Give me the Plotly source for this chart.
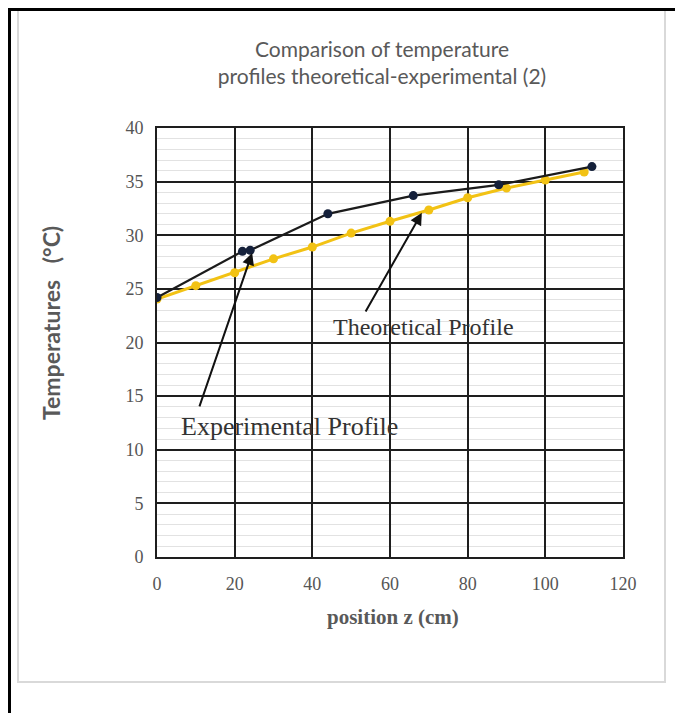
import plotly.graph_objects as go

# Data
exp_z = [0, 22, 24, 44, 66, 88, 112]
exp_T = [24.2, 28.5, 28.6, 32.0, 33.7, 34.7, 36.4]

theo_z = [0, 10, 20, 30, 40, 50, 60, 70, 80, 90, 100, 110]
theo_T = [24.05, 25.3, 26.5, 27.8, 28.9, 30.2, 31.3, 32.35, 33.5, 34.4, 35.15, 35.9]

x_ticks = [0, 20, 40, 60, 80, 100, 120]
y_ticks = [0, 5, 10, 15, 20, 25, 30, 35, 40]

# page offset (browser body margin)
OFF = 8
W, H = 683 - OFF, 713 - OFF
PL, PR, PT, PB = 157, 623, 128, 557      # plot area in reference pixels
L, T = PL - OFF, PT - OFF
R, B = W - (PR - OFF), H - (PB - OFF)
PW, PH = PR - PL, PB - PT


def px_x(px):
    return (px - PL) / PW


def px_y(py):
    return (PB - py) / PH


fig = go.Figure()

fig.add_trace(go.Scatter(
    x=theo_z, y=theo_T, mode="lines+markers", name="Theoretical Profile",
    line=dict(color="#f2c214", width=3),
    marker=dict(color="#f2c214", size=9),
))
fig.add_trace(go.Scatter(
    x=exp_z, y=exp_T, mode="lines+markers", name="Experimental Profile",
    line=dict(color="#1b1b1b", width=2.2),
    marker=dict(color="#14203a", size=9),
))

grid_dark = "#1e1e1e"
tick_font = dict(family="Liberation Serif", size=18, color="#555555")

fig.update_xaxes(
    range=[0, 120], tickvals=x_ticks, ticktext=[str(v) for v in x_ticks],
    showgrid=True, gridcolor=grid_dark, gridwidth=2,
    showline=True, linecolor=grid_dark, linewidth=2, mirror=True,
    zeroline=False, tickfont=tick_font, ticks="", ticklabelstandoff=9,
    automargin=False,
)
fig.update_yaxes(
    range=[0, 40], tickvals=y_ticks, ticktext=[str(v) for v in y_ticks],
    showgrid=True, gridcolor=grid_dark, gridwidth=2,
    minor=dict(dtick=1, showgrid=True, gridcolor="#e2e2e2", gridwidth=1),
    showline=True, linecolor=grid_dark, linewidth=2, mirror=True,
    zeroline=False, tickfont=tick_font, ticks="", ticklabelstandoff=8,
    automargin=False,
)

shapes = [
    # light grey chart frame
    dict(type="rect", xref="paper", yref="paper",
         x0=px_x(18), x1=px_x(665), y0=px_y(682), y1=px_y(7),
         line=dict(color="#d9d9d9", width=2), fillcolor="rgba(0,0,0,0)", layer="below"),
    # black outer border (left and top), as close to the page corner as possible
    dict(type="line", xref="paper", yref="paper",
         x0=px_x(9.5), x1=px_x(9.5), y0=px_y(720), y1=px_y(8),
         line=dict(color="black", width=3)),
    dict(type="line", xref="paper", yref="paper",
         x0=px_x(8), x1=px_x(690), y0=px_y(9.5), y1=px_y(9.5),
         line=dict(color="black", width=3)),
]

annotations = [
    dict(x=68.2, y=32.1, xref="x", yref="y", ax=53.5, ay=22.75, axref="x", ayref="y",
         text="", showarrow=True, arrowhead=2, arrowsize=1.2, arrowwidth=2, arrowcolor="#111111"),
    dict(x=24.5, y=28.35, xref="x", yref="y", ax=10.8, ay=13.9, axref="x", ayref="y",
         text="", showarrow=True, arrowhead=2, arrowsize=1.2, arrowwidth=2, arrowcolor="#111111"),
    dict(x=68.5, y=21.45, xref="x", yref="y", text="Theoretical Profile", showarrow=False,
         xanchor="center", yanchor="middle",
         font=dict(family="Liberation Serif", size=24, color="#333333")),
    dict(x=34.2, y=12.2, xref="x", yref="y", text="Experimental Profile", showarrow=False,
         xanchor="center", yanchor="middle",
         font=dict(family="Liberation Serif", size=26, color="#333333")),
    # axis titles
    dict(x=px_x(393), y=px_y(617), xref="paper", yref="paper",
         xanchor="center", yanchor="middle",
         text="<b>position z (cm)</b>", showarrow=False,
         font=dict(family="Liberation Serif", size=21, color="#595959")),
    dict(x=px_x(51), y=px_y(323), xref="paper", yref="paper", textangle=-90,
         xanchor="center", yanchor="middle",
         text="<b>Temperatures\u00a0\u00a0\u00a0(°C)</b>", showarrow=False,
         font=dict(family="Lato", size=23, color="#595959")),
]

fig.update_layout(
    width=W, height=H,
    margin=dict(l=L, r=R, t=T, b=B, pad=0),
    paper_bgcolor="white", plot_bgcolor="white",
    showlegend=False,
    title=dict(text="Comparison of temperature<br>profiles theoretical-experimental (2)",
               x=(382 - OFF) / W, xanchor="center", y=1 - 49 / H, yanchor="top",
               yref="container",
               font=dict(family="Lato", size=21, color="#595959")),
    shapes=shapes, annotations=annotations,
)

fig.write_html("out.html")
